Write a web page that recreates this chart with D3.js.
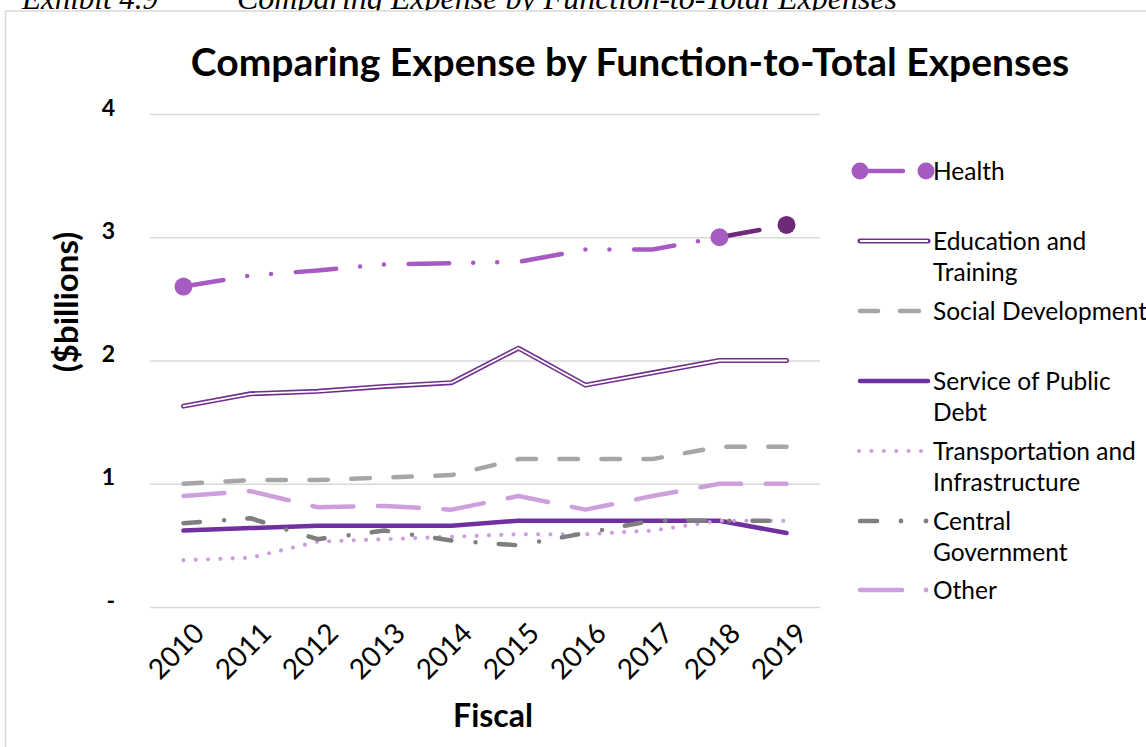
<!DOCTYPE html>
<html>
<head>
<meta charset="utf-8">
<script src="https://cdn.jsdelivr.net/npm/d3@7"></script>
<style>
  html, body { margin: 0; padding: 0; background: #fff; }
  svg { display: block; }
</style>
</head>
<body>
<svg id="chart" width="1146" height="747"></svg>
<script>
// ---- data ----
const years = ["2010","2011","2012","2013","2014","2015","2016","2017","2018","2019"];
const health        = [2.60, 2.69, 2.73, 2.78, 2.79, 2.80, 2.90, 2.90, 3.00, 3.10];
const education     = [1.63, 1.73, 1.75, 1.79, 1.82, 2.10, 1.80, 1.90, 2.00, 2.00];
const socialDev     = [1.00, 1.03, 1.03, 1.05, 1.07, 1.20, 1.20, 1.20, 1.30, 1.30];
const publicDebt    = [0.62, 0.64, 0.66, 0.66, 0.66, 0.70, 0.70, 0.70, 0.70, 0.60];
const transport     = [0.38, 0.40, 0.53, 0.55, 0.57, 0.59, 0.59, 0.62, 0.70, 0.70];
const centralGov    = [0.68, 0.72, 0.55, 0.62, 0.54, 0.50, 0.60, 0.70, 0.70, 0.70];
const other         = [0.90, 0.94, 0.81, 0.82, 0.79, 0.90, 0.79, 0.90, 1.00, 1.00];
const yTicks = [0, 1, 2, 3, 4];
const seriesNames = ["Health", "Education and Training", "Social Development",
  "Service of Public Debt", "Transportation and Infrastructure", "Central Government", "Other"];
const legendLines = [["Health"], ["Education and", "Training"], ["Social Development"],
  ["Service of Public", "Debt"], ["Transportation and", "Infrastructure"], ["Central", "Government"], ["Other"]];

// ---- styles ----
const FONT = "Lato, 'Open Sans', sans-serif";
const C = {
  health: "#A65BC2", healthDark: "#6E2A78", edu: "#702F8C", social: "#A6A6A6",
  debt: "#7030A0", transport: "#CDA0DD", central: "#7F7F7F", other: "#CDA0DD", grid: "#D9D9D9"
};
const styles = [
  {key: "health", data: health, color: C.health, width: 4.5, dash: "40.5,24,0,24,0,24.8"},
  {key: "edu", data: education, color: C.edu, width: 5, dash: null, double: true},
  {key: "social", data: socialDev, color: C.social, width: 4.5, dash: "18.5,23.5"},
  {key: "debt", data: publicDebt, color: C.debt, width: 4.5, dash: null},
  {key: "transport", data: transport, color: C.transport, width: 4.2, dash: "0,12.3"},
  {key: "central", data: centralGov, color: C.central, width: 4.5, dash: "16.5,24.25,0,23.25"},
  {key: "other", data: other, color: C.other, width: 4.5, dash: "41,24.5"}
];

const svg = d3.select("#chart");

// caption (cut off at top, as in the source page)
const SERIF = "'Liberation Serif', 'Times New Roman', serif";
svg.append("text").attr("x", 22).attr("y", 9)
  .attr("font-family", SERIF).attr("font-style", "italic").attr("font-size", 31).attr("fill", "#000")
  .text("Exhibit 4.9");
svg.append("text").attr("x", 237).attr("y", 9)
  .attr("font-family", SERIF).attr("font-style", "italic").attr("font-size", 32).attr("fill", "#000")
  .text("Comparing Expense by Function-to-Total Expenses");

// chart border
svg.append("rect").attr("x", 5.5).attr("y", 11).attr("width", 1160).attr("height", 760)
  .attr("fill", "#fff").attr("stroke", "#D9D9D9").attr("stroke-width", 1.5);

// title
svg.append("text").attr("x", 630).attr("y", 76).attr("text-anchor", "middle")
  .attr("font-family", FONT).attr("font-weight", "bold").attr("font-size", 39).attr("fill", "#000")
  .text("Comparing Expense by Function-to-Total Expenses");

// scales
const x = d3.scalePoint().domain(years).range([150, 820]).padding(0.5);
const y = d3.scaleLinear().domain([0, 4]).range([607, 114]);

// gridlines
const gy = svg.append("g").attr("transform", "translate(150,0)")
  .call(d3.axisLeft(y).tickValues(yTicks).tickSize(-670).tickFormat(""));
gy.select(".domain").remove();
gy.selectAll(".tick line").attr("stroke", C.grid).attr("stroke-width", 1.5);

// y tick labels
const yl = svg.append("g").attr("transform", "translate(115,0)")
  .call(d3.axisLeft(y).tickValues(yTicks).tickSize(0).tickPadding(0)
    .tickFormat(d => d === 0 ? "-" : d3.format("d")(d)));
yl.select(".domain").remove();
yl.selectAll("text").attr("font-family", FONT).attr("font-weight", "bold")
  .attr("font-size", 23).attr("fill", "#000").attr("dy", "0.05em");

// y axis title
svg.append("text").attr("transform", "translate(78,302) rotate(-90)")
  .attr("text-anchor", "middle").attr("font-family", FONT).attr("font-weight", "bold")
  .attr("font-size", 33).attr("fill", "#000").text("($billions)");

// x labels
const xl = svg.append("g").attr("transform", "translate(0,607)")
  .call(d3.axisBottom(x).tickSize(0).tickPadding(0));
xl.select(".domain").remove();
xl.selectAll("text")
  .attr("font-family", FONT).attr("font-size", 28).attr("fill", "#000")
  .attr("text-anchor", "end").attr("dy", 0).attr("y", 0)
  .attr("transform", "translate(22,28) rotate(-45)");

svg.append("text").attr("x", 493).attr("y", 727).attr("text-anchor", "middle")
  .attr("font-family", FONT).attr("font-weight", "bold").attr("font-size", 32).attr("fill", "#000")
  .text("Fiscal");

// lines
const line = d3.line().x((d, i) => x(years[i])).y(d => y(d));
const lineG = svg.append("g");
styles.forEach(s => {
  let data = s.data;
  if (s.key === "health") data = s.data.slice(0, 9);
  const p = lineG.append("path").datum(data).attr("d", line)
    .attr("fill", "none").attr("stroke", s.color).attr("stroke-width", s.width)
    .attr("stroke-linecap", "round").attr("stroke-linejoin", "round");
  if (s.dash) p.attr("stroke-dasharray", s.dash);
  if (s.double) {
    lineG.append("path").datum(data).attr("d", line)
      .attr("fill", "none").attr("stroke", "#fff").attr("stroke-width", 1.8)
      .attr("stroke-linecap", "round").attr("stroke-linejoin", "round");
  }
  if (s.key === "health") {
    const seg = d3.line().x(d => x(d[0])).y(d => y(d[1]));
    lineG.append("path").datum([[years[8], health[8]], [years[9], health[9]]]).attr("d", seg)
      .attr("fill", "none").attr("stroke", C.healthDark).attr("stroke-width", s.width)
      .attr("stroke-linecap", "round").attr("stroke-dasharray", s.dash);
  }
});
// health markers
const markerIdx = [0, 8, 9];
lineG.selectAll("circle.hm").data(markerIdx).join("circle").attr("class", "hm")
  .attr("cx", i => x(years[i])).attr("cy", i => y(health[i])).attr("r", 9)
  .attr("fill", i => i === 9 ? C.healthDark : C.health);

// legend
const lg = svg.append("g");
const rowY = [171, 241, 311, 381, 451, 521, 590];
styles.forEach((s, k) => {
  const yy = rowY[k];
  const g = lg.append("g");
  if (s.key === "health") {
    g.append("line").attr("x1", 858).attr("x2", 903).attr("y1", yy).attr("y2", yy)
      .attr("stroke", s.color).attr("stroke-width", s.width).attr("stroke-linecap", "round");
    g.append("circle").attr("cx", 860).attr("cy", yy).attr("r", 8.5).attr("fill", s.color);
    g.append("circle").attr("cx", 926).attr("cy", yy).attr("r", 8.5).attr("fill", s.color);
  } else if (s.key === "social") {
    [[858, 880], [898, 921]].forEach(([a, b]) => g.append("line").attr("x1", a + 2).attr("x2", b - 2)
      .attr("y1", yy).attr("y2", yy).attr("stroke", s.color).attr("stroke-width", s.width).attr("stroke-linecap", "round"));
  } else if (s.key === "central") {
    g.append("line").attr("x1", 860).attr("x2", 877).attr("y1", yy).attr("y2", yy)
      .attr("stroke", s.color).attr("stroke-width", s.width).attr("stroke-linecap", "round");
    g.append("circle").attr("cx", 901).attr("cy", yy).attr("r", 2.4).attr("fill", s.color);
    g.append("circle").attr("cx", 926).attr("cy", yy).attr("r", 2.4).attr("fill", s.color);
  } else if (s.key === "other") {
    g.append("line").attr("x1", 860).attr("x2", 902).attr("y1", yy).attr("y2", yy)
      .attr("stroke", s.color).attr("stroke-width", s.width).attr("stroke-linecap", "round");
    g.append("circle").attr("cx", 926).attr("cy", yy).attr("r", 2.4).attr("fill", s.color);
  } else if (s.key === "transport") {
    g.append("line").attr("x1", 859).attr("x2", 922).attr("y1", yy).attr("y2", yy)
      .attr("stroke", s.color).attr("stroke-width", s.width).attr("stroke-linecap", "round")
      .attr("stroke-dasharray", "0,12.4");
  } else {
    g.append("line").attr("x1", 860).attr("x2", 928).attr("y1", yy).attr("y2", yy)
      .attr("stroke", s.color).attr("stroke-width", s.width).attr("stroke-linecap", "round");
    if (s.double) g.append("line").attr("x1", 860).attr("x2", 928).attr("y1", yy).attr("y2", yy)
      .attr("stroke", "#fff").attr("stroke-width", 1.8);
  }
  const t = g.append("text").attr("x", 933).attr("y", yy + 8.5)
    .attr("font-family", FONT).attr("font-size", 24.5).attr("fill", "#000");
  legendLines[k].forEach((ln, j) => t.append("tspan").attr("x", 933).attr("dy", j === 0 ? 0 : 31.5).text(ln));
});
</script>
</body>
</html>
